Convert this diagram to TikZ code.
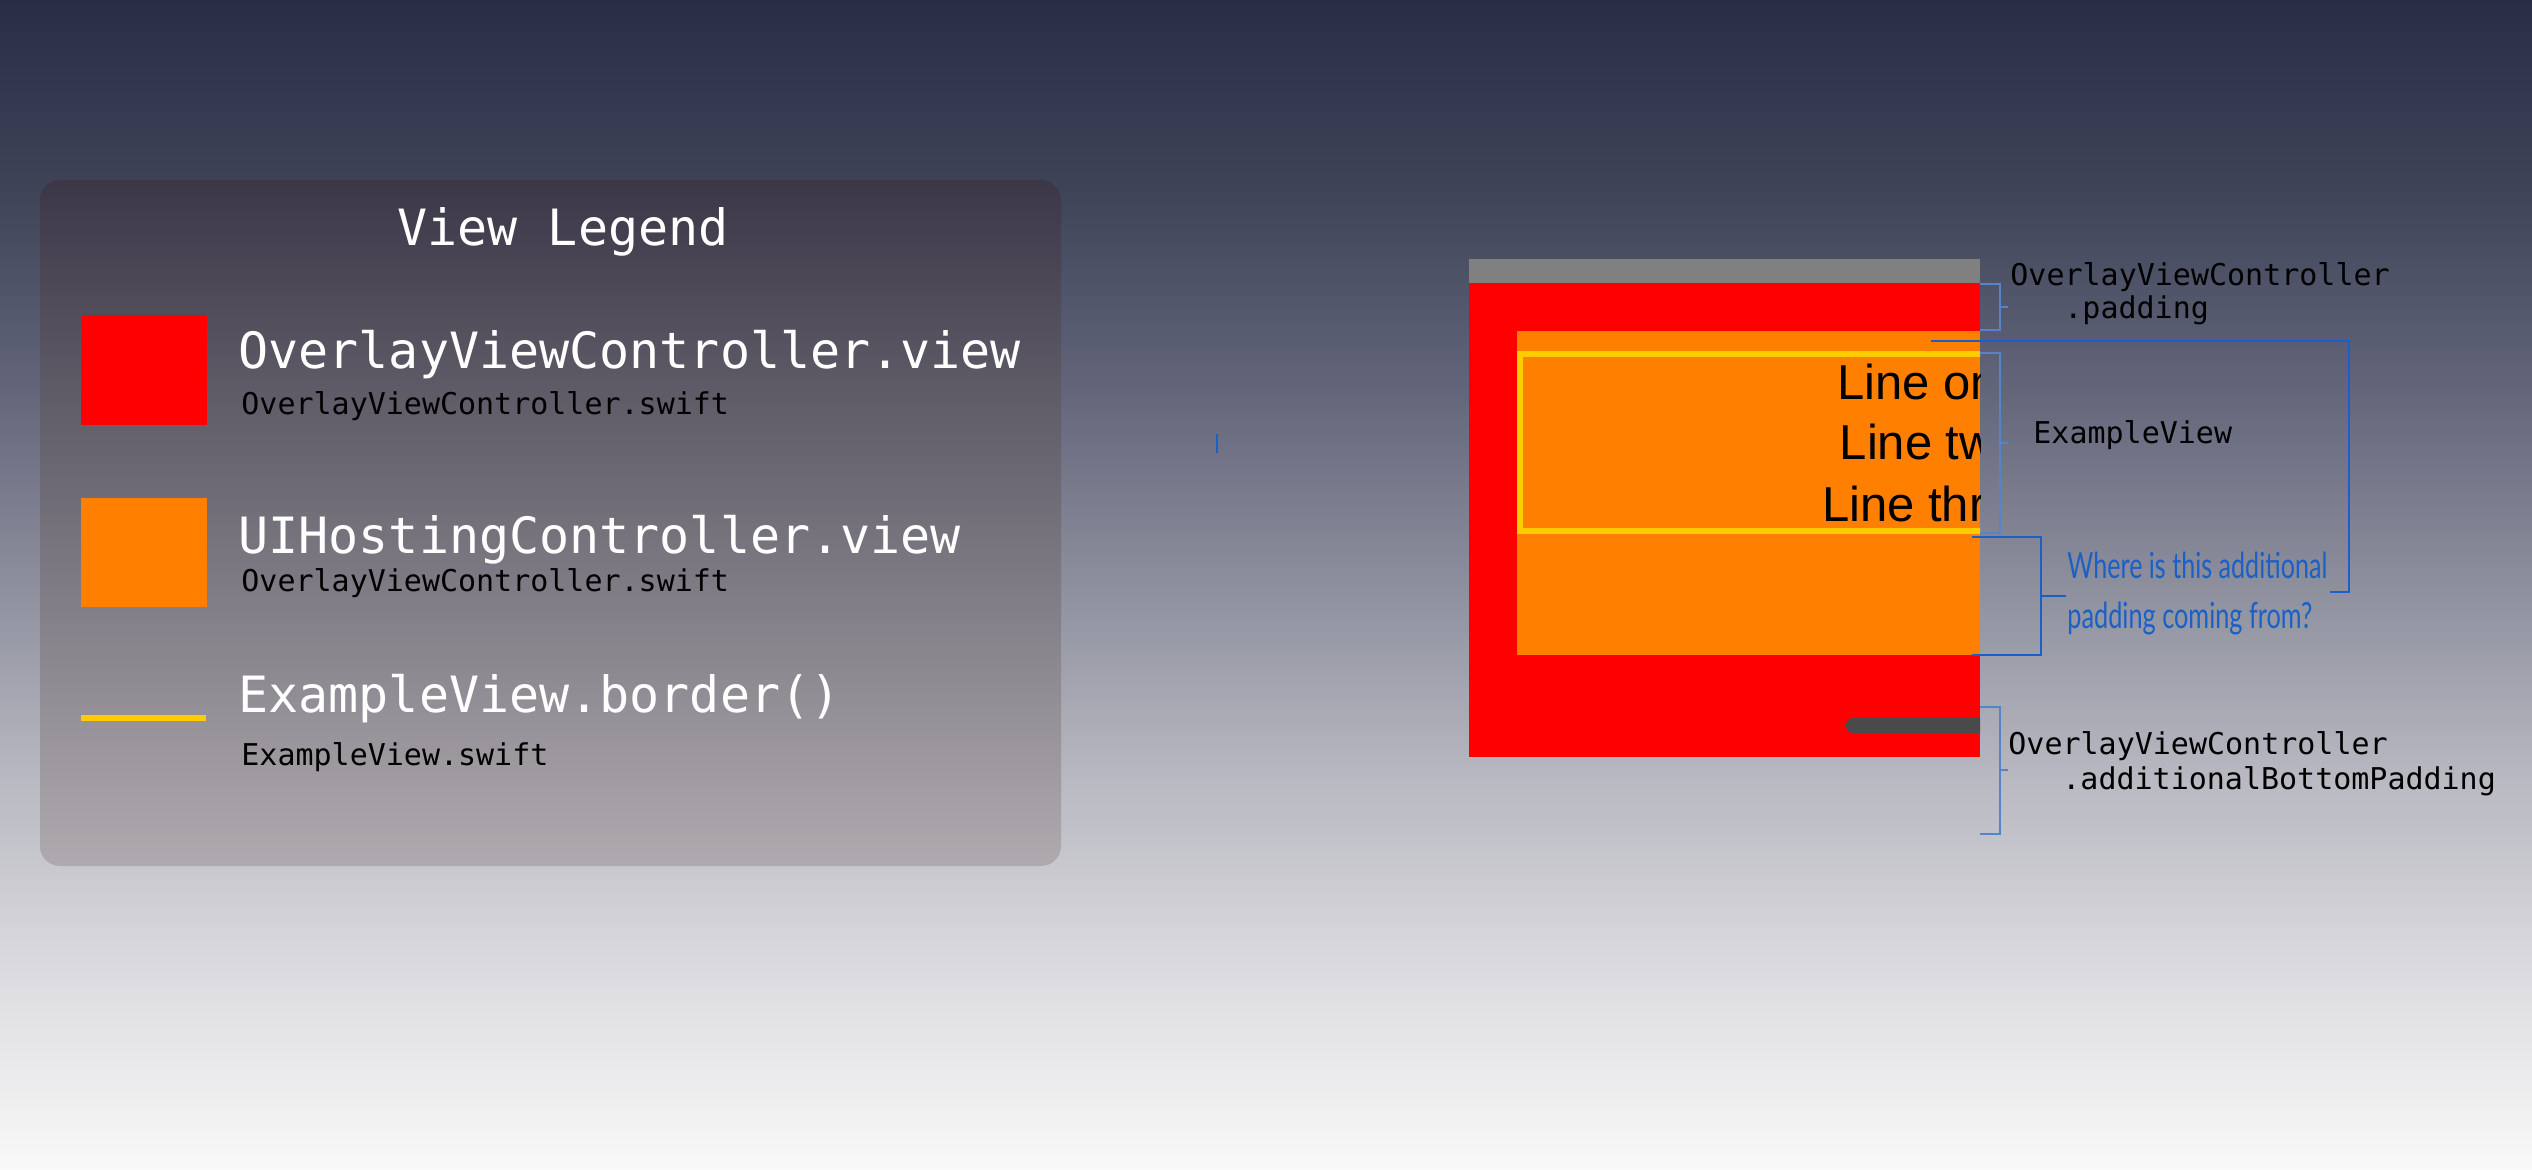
\documentclass[tikz,border=0pt]{standalone}
\usepackage{fontspec}
\setmainfont{Liberation Sans}
\newfontfamily\monof{DejaVu Sans Mono}
\newfontfamily\handf{Lato}
\newfontfamily\linef{Liberation Sans}
\definecolor{bga}{HTML}{292E45}
\definecolor{bgb}{HTML}{3F4459}
\definecolor{bgc}{HTML}{63667A}
\definecolor{bgd}{HTML}{8D8F9D}
\definecolor{bge}{HTML}{B8B9C1}
\definecolor{bgf}{HTML}{DCDCE0}
\definecolor{bgg}{HTML}{F9F9F9}
\definecolor{pantop}{HTML}{3B3747}
\definecolor{panbot}{HTML}{AEAAAE}
\definecolor{vred}{HTML}{FF0000}
\definecolor{vorange}{HTML}{FF7F00}
\definecolor{vyellow}{HTML}{FFCC00}
\definecolor{vgray}{HTML}{808080}
\definecolor{vbar}{HTML}{4A4A4A}
\definecolor{bdark}{HTML}{1A60C6}
\definecolor{blight}{HTML}{5585C8}
\pgfdeclareverticalshading{bgshade}{100bp}{color(0bp)=(bgg); color(25bp)=(bgg); color(33.333bp)=(bgf); color(41.667bp)=(bge); color(50bp)=(bgd); color(58.333bp)=(bgc); color(66.667bp)=(bgb); color(75bp)=(bga); color(100bp)=(bga)}
\tikzset{
  legbig/.style={anchor=base west, inner sep=0pt, text=white, font=\monof\fontsize{25}{30}\selectfont},
  legsmall/.style={anchor=base west, inner sep=0pt, text=black, font=\monof\fontsize{15}{18}\selectfont},
  annot/.style={anchor=base west, inner sep=0pt, text=black, font=\monof\fontsize{15}{18}\selectfont},
  linetext/.style={anchor=base, inner sep=0pt, text=black, font=\linef\fontsize{24.5}{30}\selectfont},
  handtext/.style={anchor=base west, inner sep=0pt, text=bdark, font=\handf\fontsize{18}{22}\selectfont},
  darkbr/.style={draw=bdark, line width=1.25pt},
  lightbr/.style={draw=blight, line width=0.75pt},
}
\begin{document}
\begin{tikzpicture}[x=0.5pt,y=-0.5pt]
\useasboundingbox (0,0) rectangle (2532,1170);
\shade[shading=bgshade] (0,0) rectangle (2532,1170);
% legend panel
\shade[top color=pantop, bottom color=panbot, rounded corners=10pt] (40,180) rectangle (1061,866);
\node[anchor=base, inner sep=0pt, text=white, font=\monof\fontsize{25}{30}\selectfont] (title) at (563,246) {View Legend};
\fill[vred] (81,315) rectangle (207,425);
\fill[vorange] (81,498) rectangle (207,607);
\draw[vyellow, line width=2.75pt] (81,718) -- (206,718);
\node[legbig] (l1big) at (238,369) {OverlayViewController.view};
\node[legsmall] (l1small) at (241,415) {OverlayViewController.swift};
\node[legbig] (l2big) at (238,553) {UIHostingController.view};
\node[legsmall] (l2small) at (241,592) {OverlayViewController.swift};
\node[legbig] (l3big) at (238,712) {ExampleView.border()};
\node[legsmall] (l3small) at (241,765) {ExampleView.swift};
% phone view
\begin{scope}
\clip (1469,259) rectangle (1980,757);
\fill[vgray] (1469,259) rectangle (1980,283);
\fill[vred] (1469,283) rectangle (1980,757);
\fill[vorange] (1517,331) rectangle (1980,655);
\draw[vyellow, line width=3pt] (2100,354) -- (1520,354) -- (1520,530.7) -- (2100,530.7);
\node[linetext] (lone) at (1931,400) {Line one};
\node[linetext] (ltwo) at (1931,460) {Line two};
\node[linetext] (lthree) at (1931,521.5) {Line three};
\draw[vbar, line width=7.5pt, line cap=round] (1853.5,725.5) -- (2100,725.5);
\end{scope}
% brackets
\draw[lightbr] (1980,284) -- (2000,284) -- (2000,330) -- (1980,330);
\draw[lightbr] (2000,307) -- (2008,307);
\draw[lightbr] (1980,353) -- (2000,353) -- (2000,533) -- (1980,533);
\draw[lightbr] (2000,443) -- (2008,443);
\draw[lightbr] (1980,707) -- (2000,707) -- (2000,834) -- (1980,834);
\draw[lightbr] (2000,770) -- (2008,770);
\draw[darkbr] (1931,341) -- (2349,341) -- (2349,592) -- (2330,592);
\draw[darkbr] (1972,537) -- (2041,537) -- (2041,655) -- (1972,655);
\draw[darkbr] (2041,596) -- (2066,596);
\draw[bdark, line width=1pt] (1217,434) -- (1217,453);
% labels
\node[annot] (pad1) at (2010,286) {OverlayViewController};
\node[annot] (pad2) at (2064,319) {.padding};
\node[annot] (ex) at (2033,444) {ExampleView};
\node[annot] (bot1) at (2008,754) {OverlayViewController};
\node[annot] (bot2) at (2062,789) {.additionalBottomPadding};
\node[handtext] (q1) at (2067,579) {\resizebox{130pt}{\height}{Where is this additional}};
\node[handtext] (q2) at (2067,628) {\resizebox{122.5pt}{\height}{padding coming from?}};
\end{tikzpicture}
\end{document}
